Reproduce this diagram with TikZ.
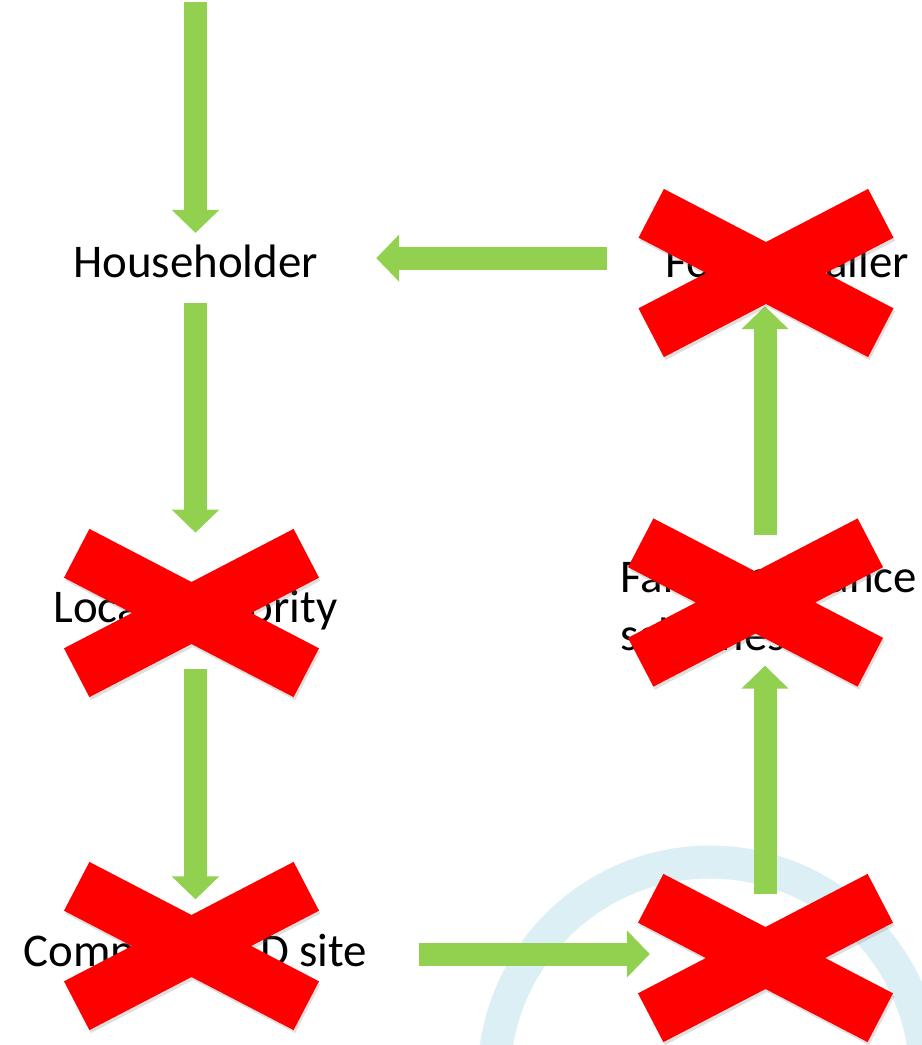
\documentclass[tikz,border=0pt]{standalone}
\usepackage{fontspec}
\setmainfont{Carlito}
\usepackage{tikz}
\usetikzlibrary{arrows.meta, positioning, calc, shadows}
\definecolor{arrowgreen}{HTML}{92D050}
\definecolor{crossred}{HTML}{FF0000}
\definecolor{ringblue}{RGB}{219,239,245}
\tikzset{strike/.pic={
  \path[cross] (0,31) -- (102.1,84.1) -- (127.5,35.3) -- (59.6,0) -- (127.5,-35.3) -- (102.1,-84.1)
    -- (0,-31) -- (-102.1,-84.1) -- (-127.5,-35.3) -- (-59.6,0) -- (-127.5,35.3) -- (-102.1,84.1) -- cycle;
}}

\begin{document}
\begin{tikzpicture}[x=0.02cm, y=-0.02cm, font=\fontsize{26.7}{32.5}\selectfont]
\tikzstyle{stage} = [inner sep=0pt, text height=24pt, text depth=2.5pt]
\tikzstyle{flow} = [draw=arrowgreen, line width=0.46cm, -{Triangle[length=0.46cm, width=0.92cm]}]
\tikzstyle{cross} = [fill=crossred, drop shadow={shadow xshift=0.03cm, shadow yshift=-0.06cm, opacity=0.25}]

\useasboundingbox (0,0) rectangle (922,1045);
\clip (0,0) rectangle (922,1045);
\draw[ringblue, line width=0.66cm] (710,1078) circle [radius=4.32cm];

\node (householder) [stage, anchor=base] at (195.5,277) {Householder};
\node (food) [stage, right=6.94cm of householder] {Food retailer};
\node (local) [stage, below=5.97cm of householder] {Local authority};
\node (compost) [stage, below=5.93cm of local] {Compost / AD site};
\node (farm) [inner sep=0pt, align=left, anchor=base west] at (620,650) {Farm assurance\\schemes};
\node (unknown) [inner sep=0pt] at (765,954) {};
\coordinate (feed) at (195.5,2);

\draw [flow, shorten >=0.03cm] (feed) -- (householder);
\draw [flow, shorten <=0.43cm, shorten >=0.95cm] (householder) -- (local);
\draw [flow, shorten <=0.83cm, shorten >=0.49cm] (local) -- (compost);
\draw [flow, shorten <=1.02cm, shorten >=2.28cm] (compost.east |- unknown) -- (unknown);
\draw [flow, shorten <=1.18cm, shorten >=0.3cm] (unknown) -- (unknown |- farm.south);
\draw [flow, shorten <=0.54cm, shorten >=0.49cm] (unknown |- farm.north) -- (unknown |- food.south);
\draw [flow, shorten <=1.16cm, shorten >=1.16cm] (food) -- (householder);

\pic at (766,273) {strike};
\pic at (755.5,602.5) {strike};
\pic at (191.5,613) {strike};
\pic at (191.5,946) {strike};
\pic at (765.5,958) {strike};
\end{tikzpicture}
\end{document}
